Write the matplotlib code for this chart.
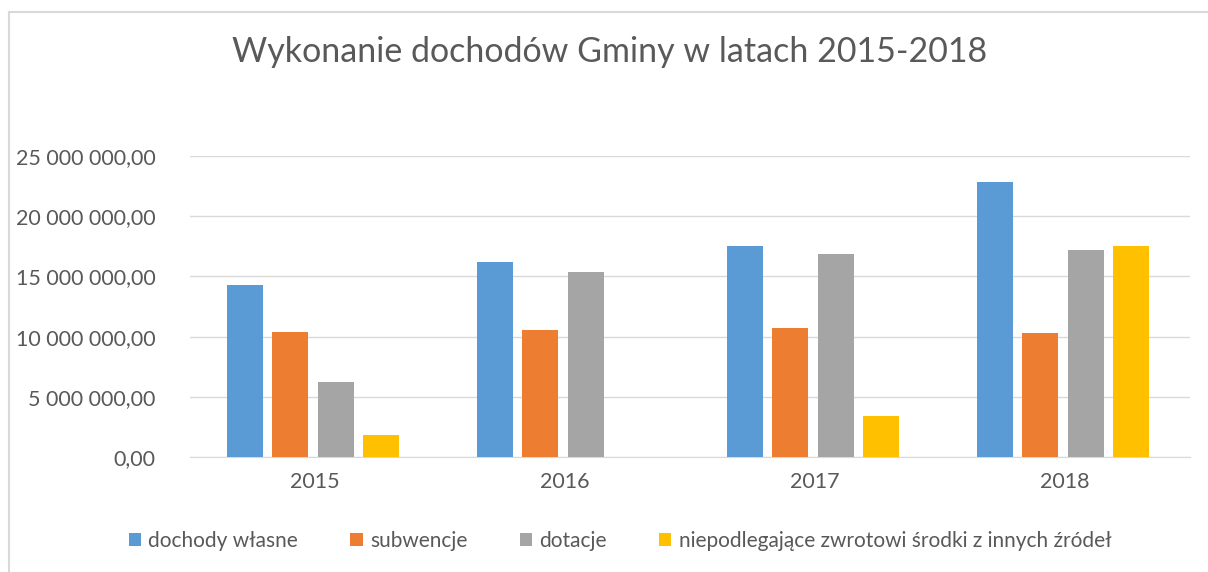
import numpy as np
import matplotlib.pyplot as plt
from matplotlib.ticker import FuncFormatter, MultipleLocator
from matplotlib.lines import Line2D

plt.rcParams['font.family'] = ['Lato', 'DejaVu Sans']

years = ['2015', '2016', '2017', '2018']
series_names = ['dochody własne', 'subwencje', 'dotacje',
                'niepodlegające zwrotowi środki z innych źródeł']
dochody_wlasne = [14260000, 16220000, 17550000, 22840000]
subwencje = [10380000, 10580000, 10690000, 10270000]
dotacje = [6260000, 15390000, 16830000, 17160000]
niepodlegajace = [1850000, 0, 3380000, 17500000]
colors = ['#5b9bd5', '#ed7d31', '#a5a5a5', '#ffc000']

text_col = '#595959'


def fmt(v, pos):
    s = '{:,.2f}'.format(v).replace(',', ' ').replace('.', ',')
    return s


W, H = 1208, 572
fig = plt.figure(figsize=(W / 100, H / 100), dpi=100)
# chart area border (only top and left visible in the crop)
fig.add_artist(Line2D([9 / W, 1], [1 - 12 / H, 1 - 12 / H], transform=fig.transFigure,
                      color='#d9d9d9', lw=1.5))
fig.add_artist(Line2D([9 / W, 9 / W], [0, 1 - 12 / H], transform=fig.transFigure,
                      color='#d9d9d9', lw=1.5))

ax = fig.add_axes([190 / W, 1 - 457 / H, 1000 / W, (457 - 156) / H])

x = np.arange(len(years))
step = 0.182
width = 0.144
data = [dochody_wlasne, subwencje, dotacje, niepodlegajace]
for i, (vals, c, name) in enumerate(zip(data, colors, series_names)):
    ax.bar(x + (i - 1.5) * step - 0.008, vals, width, color=c, label=name, zorder=3)

ax.set_xlim(-0.5, 3.5)
ax.set_ylim(0, 25000000)
ax.yaxis.set_major_locator(MultipleLocator(5000000))
ax.yaxis.set_major_formatter(FuncFormatter(fmt))
ax.set_xticks(x)
ax.set_xticklabels(years)
ax.grid(axis='y', color='#d9d9d9', lw=1, zorder=0)
for s in ['top', 'right', 'left']:
    ax.spines[s].set_visible(False)
ax.spines['bottom'].set_color('#d9d9d9')
ax.tick_params(axis='both', length=0, labelsize=15.5, colors=text_col)
ax.tick_params(axis='y', pad=25)
ax.tick_params(axis='x', pad=11)

fig.text(610 / W, 1 - 52 / H, 'Wykonanie dochodów Gminy w latach 2015-2018',
         ha='center', va='center', fontsize=24.5, color=text_col)

leg = fig.legend(loc='center', bbox_to_anchor=(620 / W, 1 - 541 / H), ncol=4,
                 frameon=False, fontsize=15, handlelength=0.6, handleheight=0.6,
                 handletextpad=0.35, columnspacing=2.5)
for t in leg.get_texts():
    t.set_color(text_col)

fig.savefig('out.png', dpi=100)
